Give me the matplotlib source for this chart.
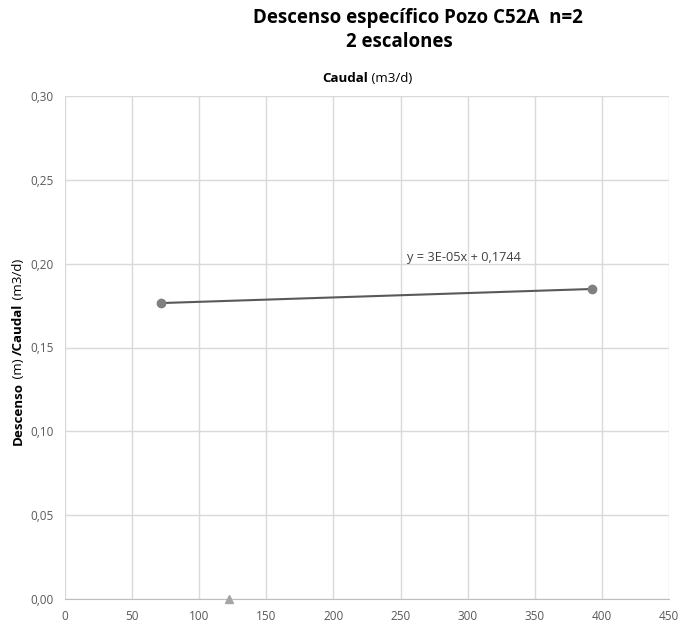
import matplotlib
matplotlib.use("Agg")
import matplotlib.pyplot as plt
from matplotlib.ticker import FuncFormatter

caudal = [71.5, 392.7]
desc_esp = [0.1765, 0.1849]
tri_x = [122]
tri_y = [0.0]
equation = "y = 3E-05x + 0,1744"
xticks = [0, 50, 100, 150, 200, 250, 300, 350, 400, 450]
yticks = [0.00, 0.05, 0.10, 0.15, 0.20, 0.25, 0.30]

plt.rcParams['font.family'] = ['Open Sans', 'DejaVu Sans']

fig = plt.figure(figsize=(6.78, 6.24), dpi=100)
W, H = 678, 624
ax = fig.add_axes([65 / W, 1 - 599 / H, (669 - 65) / W, (599 - 96) / H])

ax.set_xlim(0, 450)
ax.set_ylim(0, 0.30)
ax.set_xticks(xticks)
ax.set_yticks(yticks)
ax.xaxis.set_major_formatter(FuncFormatter(lambda v, p: f"{v:.0f}"))
ax.yaxis.set_major_formatter(FuncFormatter(lambda v, p: f"{v:.2f}".replace('.', ',')))
ax.grid(True, color='#d9d9d9', linewidth=1)
ax.set_axisbelow(True)
for s in ['top', 'right', 'left']:
    ax.spines[s].set_visible(False)
ax.spines['bottom'].set_color('#bfbfbf')
ax.tick_params(length=0, labelsize=8.5, colors='#595959', pad=8)

ax.plot(caudal, desc_esp, color='#595959', linewidth=1.5, zorder=2)
ax.plot(caudal, desc_esp, linestyle='none', marker='o', markersize=6,
        color='#808080', zorder=3)
ax.plot(tri_x, tri_y, linestyle='none', marker='^', markersize=6,
        color='#a5a5a5', zorder=3, clip_on=False)

ax.text(255, 0.2035, equation, fontsize=9.2, color='#404040', ha='left', va='center')

fig.text(418 / W, 1 - 18 / H, "Descenso específico Pozo C52A  n=2",
         ha='center', va='center', fontsize=13.5, fontweight='bold', color='#000000')
fig.text(399 / W, 1 - 42 / H, "2 escalones",
         ha='center', va='center', fontsize=13.4, fontweight='bold', color='#000000')

fig.canvas.draw()
r = fig.canvas.get_renderer()


def measure(parts, fs):
    widths = []
    for s, w in parts:
        t = fig.text(0, 0, s, fontsize=fs, fontweight=w)
        widths.append(t.get_window_extent(r).width)
        t.remove()
    return widths


# x-axis title (top), mixed bold/regular
parts_x = [("Caudal", 'bold'), (" (m3/d)", 'normal')]
wx = measure(parts_x, 9.6)
x0 = 367 - sum(wx) / 2
for (s, w), wd in zip(parts_x, wx):
    fig.text(x0 / W, 1 - 79 / H, s, fontsize=9.6, fontweight=w, color='#000000',
             va='center', ha='left')
    x0 += wd

# y-axis title (rotated), mixed bold/regular
parts_y = [("Descenso", 'bold'), (" (m) ", 'normal'), ("/Caudal", 'bold'), (" (m3/d)", 'normal')]
wy = measure(parts_y, 9.6)
y0 = 352 + sum(wy) / 2
for (s, w), hd in zip(parts_y, wy):
    fig.text(18 / W, 1 - y0 / H, s, fontsize=9.6, fontweight=w, color='#000000',
             rotation=90, rotation_mode='anchor', ha='left', va='center')
    y0 -= hd

fig.savefig("out.png", dpi=100, facecolor='white')
